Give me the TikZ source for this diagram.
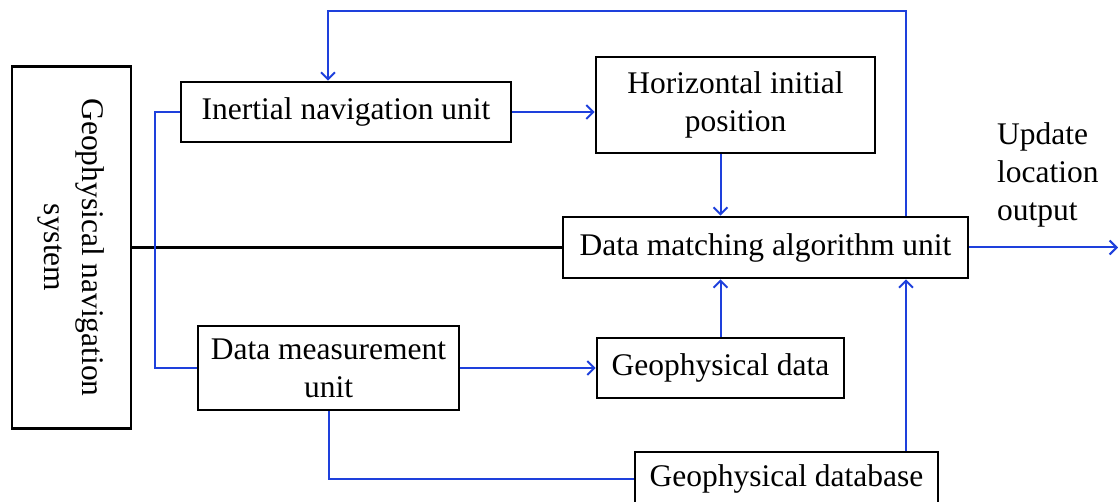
\documentclass[tikz,border=0pt]{standalone}
\usepackage{fontspec}
\setmainfont{Liberation Serif}
\usetikzlibrary{arrows.meta,positioning}
\definecolor{linkblue}{RGB}{30,64,220}
\tikzset{
  box/.style={draw,line width=1.3pt,inner sep=0pt,align=center},
  link/.style={draw=linkblue,line width=1pt},
  flow/.style={link,-{Straight Barb[length=3.5pt,width=7pt]}}
}

\begin{document}
\begin{tikzpicture}[x=0.5pt,y=-0.5pt,font=\fontsize{15.75}{19}\selectfont]
\useasboundingbox (0,0) rectangle (1118,502);
\node[box,minimum width=59.5pt,minimum height=181pt] (geo) at (71.5,247.5) {};
\node[rotate=-90,align=center] (geotext) at (geo) {Geophysical navigation\\system};
\node[box,minimum width=165pt,minimum height=30pt] (ins) at (346,112) {Inertial navigation unit};
\node[box,minimum width=139.5pt,minimum height=48pt] (hip) at (735.5,105) {Horizontal initial\\position};
\node[box,minimum width=202.5pt,minimum height=30.5pt] (dm) at (765.5,247.5) {Data matching algorithm unit};
\node[box,minimum width=130.5pt,minimum height=42pt] (dmu) at (328.5,368) {Data measurement\\unit};
\node[box,minimum width=123.5pt,minimum height=30pt] (gd) at (720.5,368) {Geophysical data};
\node[box,minimum width=151.5pt,minimum height=27pt] (gdb) at (786.5,479) {Geophysical database};
\node[align=left,anchor=west] (upd) at (990,175) {Update\\location\\output};
\coordinate (out) at (1118,247.5);
\coordinate (fb) at (906,11);
\coordinate (fbl) at (328,11);

\draw[line width=1.3pt] (geo.east) -- (dm.west);
\draw[link] (ins.west) -- ++(-25,0) |- (dmu.west);
\draw[flow] (ins.east) -- (ins.east -| hip.west);
\draw[flow] (hip.south -| gd.north) -- (gd.north |- dm.north);
\draw[flow] (fb |- dm.north) -- (fb) -- (fbl) -- (fbl |- ins.north);
\draw[flow] (dm.east) -- (out);
\draw[flow] (gd.north) -- (gd.north |- dm.south);
\draw[flow] (dmu.east) -- (dmu.east -| gd.west);
\draw[link] (dmu.south) |- (gdb.west);
\draw[flow] (gdb.north -| fb) -- (fb |- dm.south);
\end{tikzpicture}
\end{document}
